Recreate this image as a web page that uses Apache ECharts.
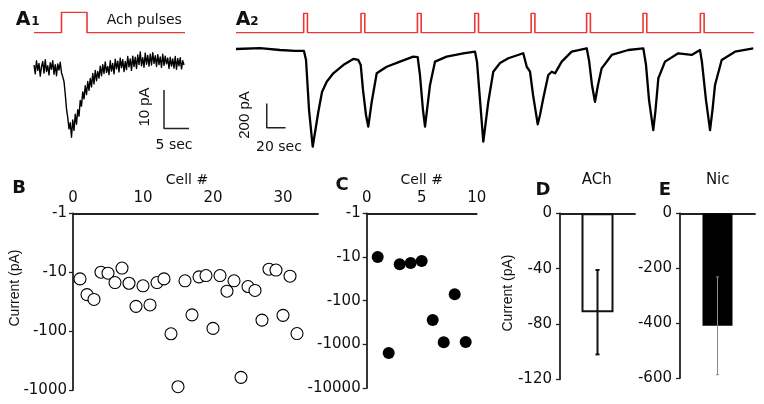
<!DOCTYPE html>
<html>
<head>
<meta charset="utf-8">
<script src="https://cdn.jsdelivr.net/npm/echarts@6/dist/echarts.min.js"></script>
<style>
  html, body { margin: 0; padding: 0; background: #fff; }
  #chart { width: 764px; height: 404px; }
</style>
</head>
<body>
<div id="chart"></div>
<script>
// ---------------- DATA ----------------
// A1: single ACh pulse (s) and recorded current (pA), sampled every 0.25 s
const a1PulseStarts = [5.5];
const a1PulseDuration = 5.1;
const a1RecordEnd = 30.2;
const a1SampleStep = 0.25;
const a1Current = [
  0.8, -1.5, 1.9, -0.6,   1.2, -2.1, 0.4, 1.7,   -1.3, 2.2, -0.9, 0.6,
  -1.8, 1.4, -0.3, 1.9,   -1.6, 0.9, -2.0, 1.1,  -0.5, 1.5, -1.2, -2.3,
  -3.5, -6.8, -10.6, -12.9,  -15.8, -14.2, -18.0, -13.5,  -16.2, -12.0, -14.6, -10.8,
  -12.5, -8.4, -9.9, -6.2,  -8.0, -4.6, -6.9, -3.5,  -5.8, -2.7, -4.9, -1.4,
  -4.1, -0.6, -3.3, -0.9,  -2.6, 0.5, -2.0, 0.9,  -1.4, 1.6, -1.1, 0.4,
  -1.7, 1.9, -0.8, 1.2,  -1.5, 2.3, -0.2, 1.8,  -1.0, 2.6, 0.1, 2.2,
  -0.9, 1.7, -0.4, 3.0,  0.3, 2.4, -0.6, 3.1,  0.4, 2.8, -0.1, 3.4,
  0.9, 4.2, 0.6, 2.7,  0.2, 3.9, 1.0, 3.3,  0.5, 3.6, 0.8, 4.0,
  1.2, 3.2, 0.4, 3.5,  0.9, 2.9, 0.2, 3.6,  0.7, 3.1, 1.1, 2.6,
  -0.1, 2.8, 0.5, 2.4,  0.0, 3.0, -0.3, 2.5,  0.6, 2.7, -0.2, 1.9,
  0.8
];
const a1ScaleBar = [5, 10]; // sec, pA

// A2: repeated ACh pulses (s) and recorded current (pA)
const a2PulseStarts = [72, 133, 193, 254, 314, 373, 433, 494];
const a2PulseDuration = 4;
const a2RecordEnd = 551;
const a2Times = [0, 25.5, 46.8, 62.8, 72.3, 74.5, 77.7, 81.6, 87.6, 91.5, 96.5, 103.5, 114.1, 124.8, 130.1,
  132.7, 135.1, 138.3, 140.7, 144.4, 149.7, 160.3, 174.5, 188.6, 193.3, 195.7, 198.9, 201.1, 206.4, 211.7,
  224.1, 241.8, 254.3, 256.4, 259.6, 263.1, 266, 268.4, 273.7, 280.9, 289.7, 305.6, 309.3, 312.8, 316, 321,
  323.4, 326.9, 332.2, 335.9, 339.4, 346.5, 357.1, 373.1, 375.5, 378.7, 381.9, 385.1, 389, 399.7, 417.3,
  433.3, 436.2, 439.4, 443.9, 446.3, 449.3, 456.4, 470.5, 484.8, 493.6, 495.7, 500, 504.3, 506.9, 509.6,
  516.7, 530.9, 550.3];
const a2Current = [4, 12, -4, -12, -12, -86, -498, -800, -512, -350, -265, -196, -128, -78, -86,
  -128, -333, -539, -635, -430, -196, -142, -100, -59, -62, -210, -498, -635, -292, -100,
  -59, -31, -18, -103, -416, -759, -580, -430, -183, -111, -72, -31, -142, -183, -374, -616,
  -539, -402, -210, -183, -196, -100, -18, 10, -86, -292, -430, -292, -155, -45, -4,
  10, -128, -416, -663, -498, -237, -100, -31, -45, -4, -103, -416, -663, -498, -292,
  -86, -18, 10];
const a2ScaleBar = [20, 200]; // sec, pA

// B: ACh current per cell (pA)
const cellsB = [1,2,3,4,5,6,7,8,9,10,11,12,13,14,15,16,17,18,19,20,21,22,23,24,25,26,27,28,29,30,31,32];
const currentB = [-13, -24, -29, -10, -10.4, -15, -8.5, -15.4, -38, -17, -36, -15, -13, -111, -880, -14,
  -53, -12, -11.4, -90, -11.4, -21, -14, -610, -17.5, -20.4, -65, -8.9, -9.2, -54, -11.7, -110];
const tickB = [-1, -10, -100, -1000];

// C: nicotine current per cell (pA)
const cellsC = [1,2,3,4,5,6,7,8,9];
const currentC = [-10, -1580, -14.7, -13.7, -12.3, -277, -900, -71, -890];
const tickC = [-1, -10, -100, -1000, -10000];

// D / E: mean +/- error (pA)
const barCatD = ['ACh'];
const meanD = [-71.5];
const errD = [30.5];
const barCatE = ['Nic'];
const meanE = [-410];
const errE = [178];

// ---------------- HELPERS ----------------
const RED = '#ee3535';
const INK = '#111';
const AXC = '#222';
const HF = '"DejaVu Sans", sans-serif';
const VF = '"Liberation Sans", Arial, sans-serif';

function pulsePoints(starts, dur, end) {
  const pts = [[0, 0]];
  starts.forEach(s => { pts.push([s, 0], [s, 1], [s + dur, 1], [s + dur, 0]); });
  pts.push([end, 0]);
  return pts;
}
function scaleBarPoints(anchor, bar) {
  return [[anchor[0], anchor[1] + bar[1]], [anchor[0], anchor[1]], [anchor[0] + bar[0], anchor[1]]];
}
function txt(text, x, y, size, opt) {
  opt = opt || {};
  return {
    type: 'text', x: x, y: y, rotation: opt.rot || 0, z: 100,
    style: {
      text: text, fill: opt.color || INK,
      font: (opt.bold ? 'bold ' : '') + size + 'px ' + (opt.family || HF),
      textAlign: opt.align || 'center', textVerticalAlign: 'middle',
      align: opt.align || 'center', verticalAlign: 'middle'
    }
  };
}
function errRender(color, width, capHalf) {
  return function (params, api) {
    const c = api.value(0), m = api.value(1), e = api.value(2);
    const top = api.coord([c, m + e]);
    const bot = api.coord([c, m - e]);
    const st = { stroke: color, lineWidth: width };
    return {
      type: 'group',
      children: [
        { type: 'line', shape: { x1: top[0], y1: top[1], x2: bot[0], y2: bot[1] }, style: st },
        { type: 'line', shape: { x1: top[0] - capHalf, y1: top[1], x2: top[0] + capHalf, y2: top[1] }, style: st },
        { type: 'line', shape: { x1: bot[0] - capHalf, y1: bot[1], x2: bot[0] + capHalf, y2: bot[1] }, style: st }
      ]
    };
  };
}
const hidden = { show: false };
function hiddenAxis(gi, min, max) {
  return { gridIndex: gi, type: 'value', min: min, max: max, show: false, splitLine: hidden };
}
const axLine = { show: true, onZero: false, lineStyle: { color: AXC, width: 1.8 } };
const axLabel = { color: INK, fontSize: 15, fontFamily: HF };

// ---------------- CHART ----------------
const chart = echarts.init(document.getElementById('chart'), null, { renderer: 'canvas' });

const option = {
  animation: false,
  backgroundColor: '#fff',
  grid: [
    { left: 34, top: 12.3, width: 155, height: 20.4 },      // 0 A1 pulses
    { left: 34, top: 45, width: 155, height: 100 },         // 1 A1 trace
    { left: 236, top: 13.3, width: 526.4, height: 19.4 },   // 2 A2 pulses
    { left: 236, top: 13.05, width: 526.4, height: 145.8 }, // 3 A2 trace
    { left: 73, top: 213.3, width: 245, height: 176.7 },    // 4 B
    { left: 366.7, top: 213.3, width: 110, height: 174.7 }, // 5 C
    { left: 560, top: 213.3, width: 75, height: 166 },      // 6 D
    { left: 680, top: 213.3, width: 75, height: 164.7 }     // 7 E
  ],
  xAxis: [
    hiddenAxis(0, 0, 31),
    hiddenAxis(1, 0, 31),
    hiddenAxis(2, 0, 560),
    hiddenAxis(3, 0, 560),
    { gridIndex: 4, type: 'value', position: 'top', min: 0, max: 35, interval: 10,
      axisLine: axLine, axisTick: { show: false }, splitLine: hidden,
      axisLabel: Object.assign({ margin: 8, showMaxLabel: false }, axLabel) },
    { gridIndex: 5, type: 'value', position: 'top', min: 0, max: 10, interval: 5,
      axisLine: axLine, axisTick: { show: false }, splitLine: hidden,
      axisLabel: Object.assign({ margin: 8 }, axLabel) },
    { gridIndex: 6, type: 'category', position: 'top', data: barCatD,
      axisLine: axLine, axisTick: { show: false }, axisLabel: hidden, splitLine: hidden },
    { gridIndex: 7, type: 'category', position: 'top', data: barCatE,
      axisLine: axLine, axisTick: { show: false }, axisLabel: hidden, splitLine: hidden }
  ],
  yAxis: [
    hiddenAxis(0, 0, 1),
    hiddenAxis(1, -20, 6),
    hiddenAxis(2, 0, 1),
    hiddenAxis(3, -900, 300),
    { gridIndex: 4, type: 'log', logBase: 10, min: -tickB[0], max: -tickB[tickB.length - 1], inverse: true,
      axisLine: axLine, axisTick: { show: true, length: 4, lineStyle: { color: AXC, width: 1.3 } },
      minorTick: hidden, splitLine: hidden,
      axisLabel: Object.assign({ margin: 6, formatter: v => '-' + Math.round(v) }, axLabel) },
    { gridIndex: 5, type: 'log', logBase: 10, min: -tickC[0], max: -tickC[tickC.length - 1], inverse: true,
      axisLine: axLine, axisTick: { show: true, length: 4, lineStyle: { color: AXC, width: 1.3 } },
      minorTick: hidden, splitLine: hidden,
      axisLabel: Object.assign({ margin: 6, formatter: v => '-' + Math.round(v) }, axLabel) },
    { gridIndex: 6, type: 'value', min: -120, max: 0, interval: 40,
      axisLine: axLine, axisTick: { show: true, length: 4, lineStyle: { color: AXC, width: 1.3 } },
      splitLine: hidden, axisLabel: Object.assign({ margin: 8 }, axLabel) },
    { gridIndex: 7, type: 'value', min: -600, max: 0, interval: 200,
      axisLine: axLine, axisTick: { show: true, length: 4, lineStyle: { color: AXC, width: 1.3 } },
      splitLine: hidden, axisLabel: Object.assign({ margin: 8 }, axLabel) }
  ],
  series: [
    { type: 'line', xAxisIndex: 0, yAxisIndex: 0, showSymbol: false, silent: true,
      data: pulsePoints(a1PulseStarts, a1PulseDuration, a1RecordEnd),
      lineStyle: { color: RED, width: 1.6 } },
    { type: 'line', xAxisIndex: 1, yAxisIndex: 1, showSymbol: false, silent: true, sampling: null,
      data: a1Current.map((v, i) => [i * a1SampleStep, v]),
      lineStyle: { color: '#000', width: 1.4, join: 'round' } },
    { type: 'line', xAxisIndex: 1, yAxisIndex: 1, showSymbol: false, silent: true,
      data: scaleBarPoints([26, -15.7], a1ScaleBar),
      lineStyle: { color: '#222', width: 1.5 } },
    { type: 'line', xAxisIndex: 2, yAxisIndex: 2, showSymbol: false, silent: true,
      data: pulsePoints(a2PulseStarts, a2PulseDuration, a2RecordEnd),
      lineStyle: { color: RED, width: 1.6 } },
    { type: 'line', xAxisIndex: 3, yAxisIndex: 3, showSymbol: false, silent: true,
      data: a2Times.map((t, i) => [t, a2Current[i]]),
      lineStyle: { color: '#000', width: 2.3, join: 'round' } },
    { type: 'line', xAxisIndex: 3, yAxisIndex: 3, showSymbol: false, silent: true,
      data: scaleBarPoints([32.7, -644], a2ScaleBar),
      lineStyle: { color: '#222', width: 1.5 } },
    { type: 'scatter', xAxisIndex: 4, yAxisIndex: 4, symbol: 'circle', symbolSize: 12,
      data: cellsB.map((c, i) => [c, -currentB[i]]),
      itemStyle: { color: '#fff', borderColor: '#000', borderWidth: 1.1, opacity: 1 } },
    { type: 'scatter', xAxisIndex: 5, yAxisIndex: 5, symbol: 'circle', symbolSize: 12,
      data: cellsC.map((c, i) => [c, -currentC[i]]),
      itemStyle: { color: '#000', opacity: 1 } },
    { type: 'bar', xAxisIndex: 6, yAxisIndex: 6, barWidth: 32, data: meanD,
      itemStyle: { color: '#fff', borderColor: '#111', borderWidth: 2 } },
    { type: 'custom', xAxisIndex: 6, yAxisIndex: 6, z: 10,
      data: meanD.map((m, i) => [i, m, errD[i]]),
      renderItem: errRender('#111', 2, 2) },
    { type: 'bar', xAxisIndex: 7, yAxisIndex: 7, barWidth: 30, data: meanE,
      itemStyle: { color: '#000' } },
    { type: 'custom', xAxisIndex: 7, yAxisIndex: 7, z: 10,
      data: meanE.map((m, i) => [i, m, errE[i]]),
      renderItem: errRender('#8a8a8a', 1, 1.5) }
  ],
  graphic: [
    txt('A', 23, 20, 19, { bold: true }),
    txt('1', 35.5, 22, 12, { bold: true }),
    txt('Ach pulses', 106.7, 20, 14, { align: 'left' }),
    txt('10 pA', 145, 107, 15, { rot: Math.PI / 2, family: VF }),
    txt('5 sec', 174, 145, 14),
    txt('A', 243, 20, 19, { bold: true }),
    txt('2', 254.5, 22, 12, { bold: true }),
    txt('200 pA', 245, 115, 15, { rot: Math.PI / 2, family: VF }),
    txt('20 sec', 279, 147, 14),
    txt('B', 19, 188.5, 18, { bold: true }),
    txt('Cell #', 187, 180, 14),
    txt('Current (pA)', 15, 288, 14, { rot: Math.PI / 2, family: VF }),
    txt('C', 342, 185, 18, { bold: true }),
    txt('Cell #', 421.7, 180, 14),
    txt('D', 543, 190.7, 18, { bold: true }),
    txt('ACh', 596.7, 180, 15),
    txt('Current (pA)', 508, 293, 14, { rot: Math.PI / 2, family: VF }),
    txt('E', 665, 190.7, 18, { bold: true }),
    txt('Nic', 717.7, 180, 15)
  ]
};
chart.setOption(option);
</script>
</body>
</html>
